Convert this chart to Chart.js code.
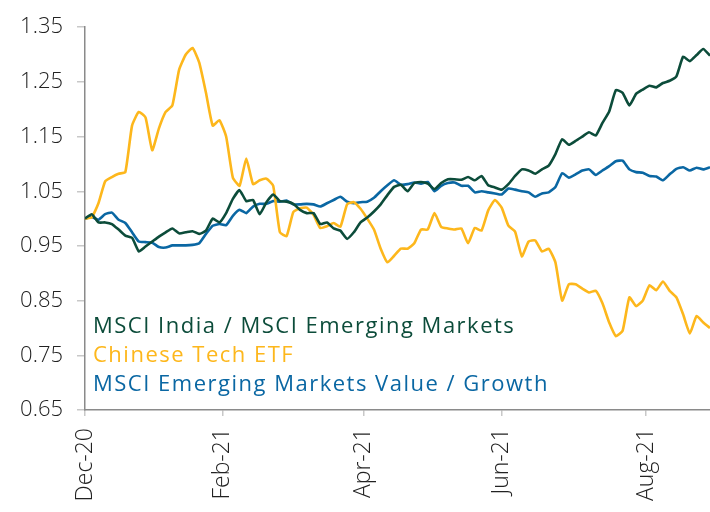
<!DOCTYPE html>
<html>
<head>
<meta charset="utf-8">
<script src="https://cdn.jsdelivr.net/npm/chart.js@4/dist/chart.umd.min.js"></script>
<style>
html,body{margin:0;padding:0;background:#fff;}
#wrap{width:710px;height:512px;position:relative;}
</style>
</head>
<body>
<div id="wrap"><canvas id="c" width="710" height="512"></canvas></div>
<script>
// ---- data ----
const seriesNames = ['MSCI India / MSCI Emerging Markets', 'Chinese Tech ETF', 'MSCI Emerging Markets Value / Growth'];
const seriesColors = ['#0c4c3a', '#fdb71c', '#0a67a3'];
const dayStep = 2;            // trading days between samples
const lastDay = 186;          // trading days covered by the axis
const xTickDays = [0, 41, 83, 124, 167];
const xTickLabels = ['Dec-20', 'Feb-21', 'Apr-21', 'Jun-21', 'Aug-21'];
const yTicks = [0.65, 0.75, 0.85, 0.95, 1.05, 1.15, 1.25, 1.35];

const india = [
 1.000,1.008,0.993,0.993,0.990,0.980,0.969,0.965,0.940,0.949,
 0.958,0.967,0.975,0.982,0.973,0.975,0.977,0.972,0.978,1.000,
 0.993,1.010,1.036,1.052,1.032,1.034,1.008,1.030,1.044,1.032,
 1.031,1.027,1.016,1.010,1.010,0.990,0.993,0.982,0.978,0.963,
 0.975,0.993,1.002,1.013,1.026,1.043,1.058,1.062,1.050,1.065,
 1.067,1.064,1.054,1.065,1.072,1.072,1.071,1.076,1.070,1.078,
 1.061,1.057,1.053,1.063,1.078,1.090,1.088,1.082,1.090,1.097,
 1.118,1.145,1.135,1.142,1.150,1.158,1.152,1.175,1.196,1.235,
 1.230,1.207,1.228,1.236,1.243,1.240,1.248,1.252,1.260,1.296,
 1.288,1.299,1.310,1.298
];
const chineseTech = [
 1.000,1.002,1.028,1.068,1.076,1.082,1.085,1.170,1.195,1.185,
 1.125,1.165,1.195,1.207,1.272,1.300,1.312,1.285,1.230,1.170,
 1.180,1.150,1.075,1.060,1.110,1.063,1.070,1.073,1.060,0.975,
 0.968,1.012,1.019,1.020,1.007,0.983,0.986,0.992,0.985,1.026,
 1.030,1.018,1.000,0.980,0.945,0.920,0.932,0.945,0.945,0.955,
 0.980,0.980,1.010,0.985,0.982,0.980,0.982,0.955,0.983,0.978,
 1.015,1.034,1.020,0.987,0.976,0.931,0.958,0.960,0.940,0.945,
 0.920,0.850,0.880,0.880,0.872,0.865,0.868,0.845,0.810,0.785,
 0.795,0.856,0.840,0.850,0.878,0.869,0.885,0.868,0.856,0.825,
 0.790,0.822,0.810,0.800
];
const valueGrowth = [
 1.000,1.003,0.998,1.008,1.011,0.998,0.992,0.975,0.958,0.957,
 0.956,0.948,0.947,0.951,0.951,0.951,0.952,0.955,0.972,0.987,
 0.990,0.988,1.005,1.016,1.010,1.022,1.027,1.027,1.032,1.031,
 1.033,1.026,1.026,1.027,1.026,1.022,1.028,1.034,1.040,1.031,
 1.028,1.030,1.031,1.038,1.050,1.061,1.070,1.062,1.063,1.066,
 1.064,1.067,1.050,1.060,1.065,1.066,1.060,1.060,1.048,1.050,
 1.048,1.046,1.044,1.055,1.053,1.050,1.048,1.040,1.046,1.048,
 1.058,1.083,1.075,1.081,1.088,1.090,1.080,1.088,1.096,1.105,
 1.106,1.090,1.085,1.084,1.078,1.077,1.070,1.081,1.091,1.094,
 1.088,1.093,1.090,1.094
];

// ---- build ----
const toPoints = arr => arr.map((v, i) => ({ x: i * dayStep, y: v }));
const seriesValues = [india, chineseTech, valueGrowth];

const FONT = 'Open Sans';

const inlineLegend = {
  id: 'inlineLegend',
  afterDatasetsDraw(chart) {
    const { ctx, chartArea } = chart;
    ctx.save();
    ctx.font = '400 22px "' + FONT + '"';
    if ('letterSpacing' in ctx) ctx.letterSpacing = '1.5px';
    ctx.textBaseline = 'alphabetic';
    ctx.textAlign = 'left';
    chart.data.datasets.forEach((ds, i) => {
      ctx.fillStyle = ds.borderColor;
      ctx.fillText(ds.label, chartArea.left + 8, chartArea.bottom - 77 + i * 29);
    });
    ctx.restore();
  }
};

new Chart(document.getElementById('c'), {
  type: 'line',
  data: {
    datasets: seriesNames.map((name, i) => ({
      label: name,
      data: toPoints(seriesValues[i]),
      borderColor: seriesColors[i],
      backgroundColor: seriesColors[i],
      borderWidth: 2.6,
      pointRadius: 0,
      tension: 0.15,
      fill: false
    }))
  },
  options: {
    responsive: false,
    devicePixelRatio: 1,
    animation: false,
    layout: { padding: { top: 24, right: 0, bottom: 0, left: 0 } },
    plugins: { legend: { display: false }, tooltip: { enabled: false } },
    scales: {
      x: {
        type: 'linear',
        min: 0,
        max: lastDay,
        afterBuildTicks: s => { s.ticks = xTickDays.map(v => ({ value: v })); },
        afterFit: s => { s.height = 102; },
        ticks: {
          autoSkip: false,
          maxRotation: 90,
          minRotation: 90,
          padding: 12,
          color: '#222',
          font: { family: FONT, size: 23, weight: '300' },
          callback: (v, i) => xTickLabels[i]
        },
        grid: { drawOnChartArea: false, drawTicks: true, tickLength: 6, color: '#c8c8c8', lineWidth: 1.5 },
        border: { display: true, color: '#8a8a8a', width: 1.5 }
      },
      y: {
        type: 'linear',
        min: 0.65,
        max: 1.35,
        afterBuildTicks: s => { s.ticks = yTicks.map(v => ({ value: v })); },
        afterFit: s => { s.width = 85; },
        ticks: {
          padding: 14,
          color: '#222',
          font: { family: FONT, size: 22, weight: '300' },
          callback: v => Number(v).toFixed(2)
        },
        grid: { drawOnChartArea: false, drawTicks: true, tickLength: 8, color: '#c8c8c8', lineWidth: 1.5 },
        border: { display: true, color: '#8a8a8a', width: 1.5 }
      }
    }
  },
  plugins: [inlineLegend]
});
</script>
</body>
</html>
